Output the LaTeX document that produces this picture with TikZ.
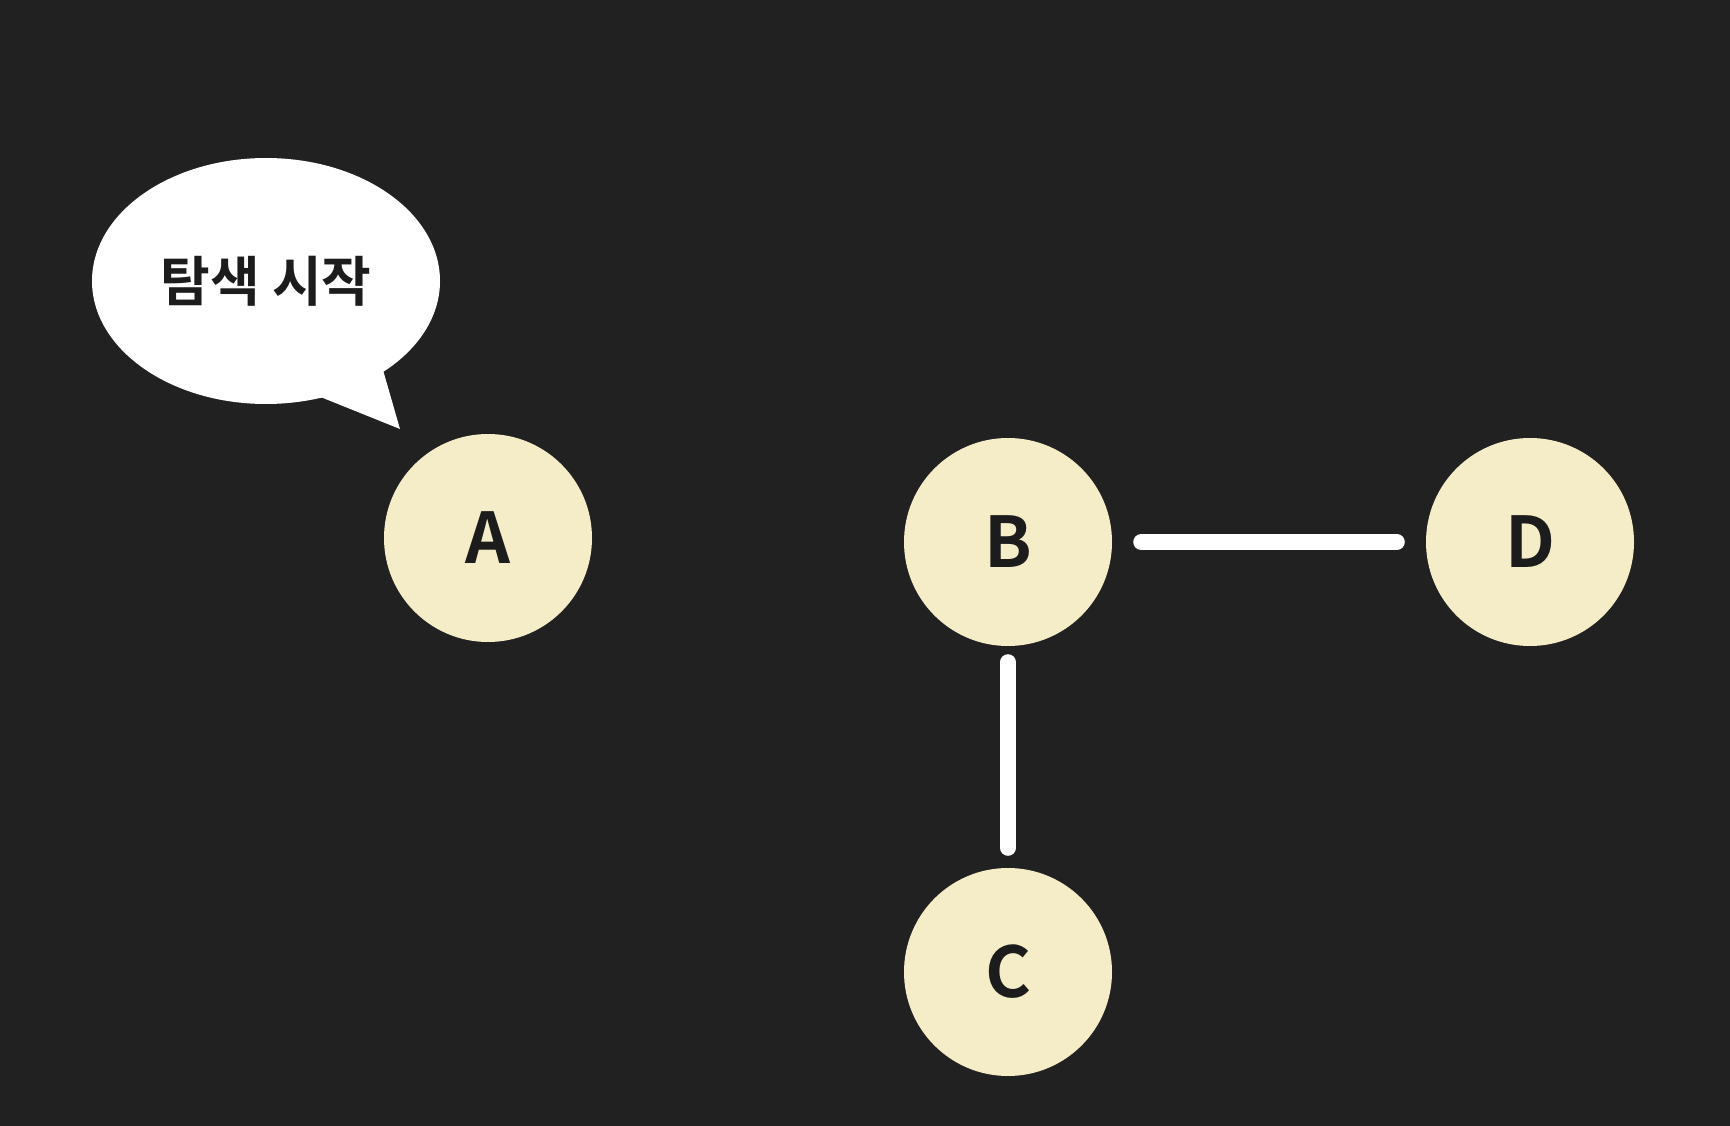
\documentclass[tikz,border=0pt]{standalone}
\usepackage{fontspec}
\newfontfamily\kr{Noto Sans CJK KR Medium}[BoldFont={Noto Sans CJK KR Bold}]
\usetikzlibrary{shapes.geometric}
\definecolor{bg}{HTML}{212121}
\definecolor{nodefill}{HTML}{F5EDC8}
\definecolor{ink}{HTML}{1C1C1C}
\tikzset{
  vertex/.style={circle, fill=nodefill, minimum size=208pt, inner sep=0pt,
    text=ink, font=\kr\bfseries\fontsize{70}{70}\selectfont},
  edge/.style={draw=white, line width=16pt, line cap=round},
  bubble/.style={ellipse, fill=white, minimum width=348pt, minimum height=246pt,
    inner sep=0pt, text=ink, font=\kr\bfseries\fontsize{54}{54}\selectfont}
}
\begin{document}
\begin{tikzpicture}[x=1pt,y=-1pt]
  \fill[bg] (0,0) rectangle (1730,1126);
  \useasboundingbox (0,0) rectangle (1730,1126);
  % speech bubble
  \coordinate (t1) at (383,370);
  \coordinate (tip) at (400,429);
  \coordinate (t2) at (318,396);
  \fill[white] (t1) -- (tip) -- (t2) -- cycle;
  \node[bubble] (bub) at (266,281) {탐색 시작};
  % vertices
  \node[vertex] (A) at (488,538) {A};
  \node[vertex] (B) at (1008,542) {B};
  \node[vertex] (D) at (1530,542) {D};
  \node[vertex] (C) at (1008,972) {C};
  % edges
  \draw[edge, shorten <=29pt, shorten >=29pt] (B) -- (D);
  \draw[edge, shorten <=16pt, shorten >=20pt] (B) -- (C);
\end{tikzpicture}
\end{document}
